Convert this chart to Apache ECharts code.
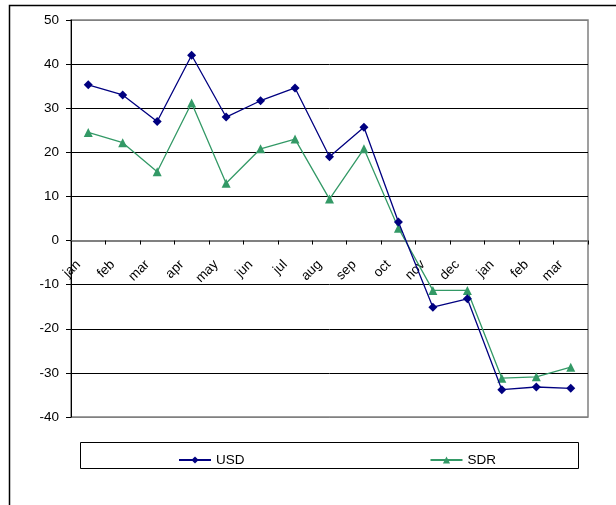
<!DOCTYPE html>
<html>
<head>
<meta charset="utf-8">
<script src="https://cdn.jsdelivr.net/npm/echarts@6/dist/echarts.min.js"></script>
<style>
  html, body { margin: 0; padding: 0; background: #fff; }
  #chart { width: 616px; height: 505px; }
</style>
</head>
<body>
<div id="chart"></div>
<script>
// Monthly change, jan to the following mar
const months = ['jan', 'feb', 'mar', 'apr', 'may', 'jun', 'jul', 'aug', 'sep', 'oct', 'nov', 'dec', 'jan', 'feb', 'mar'];
const usd = [35.3, 33.0, 27.0, 42.0, 28.0, 31.7, 34.6, 19.0, 25.7, 4.2, -15.1, -13.2, -33.8, -33.2, -33.5];
const sdr = [24.5, 22.2, 15.6, 31.2, 13.0, 20.8, 23.0, 9.4, 20.8, 2.8, -11.3, -11.3, -31.2, -30.9, -28.7];
const yTicks = [-40, -30, -20, -10, 0, 10, 20, 30, 40, 50];

const font = 'Arial, "Liberation Sans", sans-serif';
const chart = echarts.init(document.getElementById('chart'), null, { renderer: 'canvas' });

const gridTop = 20, gridBottom = 88, height = 505;
const yMin = yTicks[0], yMax = yTicks[yTicks.length - 1];
const plotH = height - gridTop - gridBottom;
// lift the category axis (with its labels) up to the zero line
const zeroOffset = -plotH * (0 - yMin) / (yMax - yMin);

// grid lines: outer ones grey like the plot frame, inner ones black
const splitColors = yTicks.map((v, i) => (i === 0 || i === yTicks.length - 1) ? '#808080' : '#000000');

chart.setOption({
  animation: false,
  backgroundColor: '#ffffff',
  textStyle: { fontFamily: font },
  grid: {
    left: 71, right: 28, top: gridTop, bottom: gridBottom,
    show: true, borderColor: '#808080', borderWidth: 1.5, backgroundColor: 'transparent'
  },
  xAxis: {
    type: 'category',
    data: months,
    boundaryGap: true,
    position: 'bottom',
    offset: zeroOffset,
    axisLine: { onZero: false, lineStyle: { color: '#808080', width: 2 } },
    axisTick: { show: true, inside: false, length: 4, lineStyle: { color: '#000', width: 1 } },
    axisLabel: {
      rotate: 45, margin: 12, padding: [0, 14, 0, 0],
      color: '#000', fontSize: 13.5, fontFamily: font, interval: 0
    },
    splitLine: { show: false }
  },
  yAxis: {
    type: 'value',
    min: yMin, max: yMax, interval: 10,
    axisLine: { show: true, lineStyle: { color: '#000', width: 1 } },
    axisTick: { show: true, length: 5, lineStyle: { color: '#000' } },
    axisLabel: { color: '#000', fontSize: 13.5, fontFamily: font, margin: 12 },
    splitLine: { show: true, lineStyle: { color: splitColors, width: 1 } }
  },
  legend: {
    left: 173, top: 448,
    itemGap: 185,
    itemWidth: 32, itemHeight: 9,
    textStyle: { color: '#000', fontSize: 13.5, fontFamily: font },
    data: ['USD', 'SDR']
  },
  graphic: [
    // outer chart frame
    { type: 'rect', shape: { x: 9.5, y: 5.5, width: 700, height: 600 }, style: { fill: 'none', stroke: '#000', lineWidth: 1.5 }, z: -1 },
    // legend frame
    { type: 'rect', shape: { x: 80.5, y: 442.5, width: 498, height: 26 }, style: { fill: 'none', stroke: '#000', lineWidth: 1 }, z: -1 }
  ],
  series: [
    {
      name: 'USD', type: 'line', data: usd,
      symbol: 'diamond', symbolSize: 9, showSymbol: true,
      lineStyle: { color: '#000080', width: 1.3 },
      itemStyle: { color: '#000080' },
      z: 3
    },
    {
      name: 'SDR', type: 'line', data: sdr,
      symbol: 'triangle', symbolSize: 9, showSymbol: true,
      lineStyle: { color: '#339966', width: 1.3 },
      itemStyle: { color: '#339966' },
      z: 2
    }
  ]
});
</script>
</body>
</html>
